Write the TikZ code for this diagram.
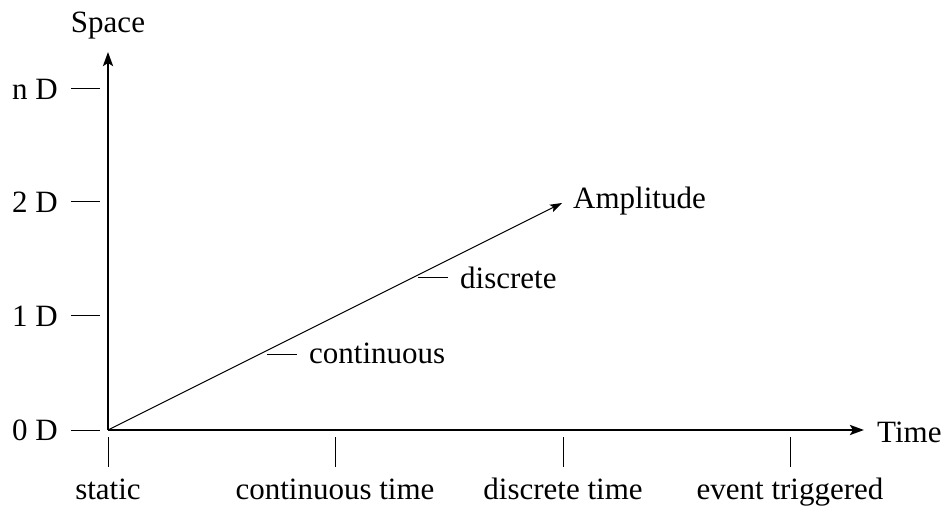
\documentclass[tikz,border=0pt]{standalone}
\usepackage{fontspec}
\setmainfont{Liberation Serif}
\usetikzlibrary{arrows.meta}
\begin{document}
\begin{tikzpicture}[x=1pt,y=-1pt,
  lbl/.style={inner sep=0pt,font=\fontsize{31}{37}\selectfont},
  axis/.style={line width=2.6pt,-{Stealth[length=14pt,width=10pt,inset=3pt]}},
  tick/.style={line width=1pt},
  diag/.style={line width=1.1pt,-{Stealth[length=12pt,width=8pt,inset=2.5pt]}}]
\useasboundingbox (0,0) rectangle (947,510);
% origin and axis ends
\coordinate (O) at (108,430);
\coordinate (Xend) at (864,430);
\coordinate (Yend) at (108,52);
\coordinate (Aend) at (562,203);
\draw[axis] (O) -- (Xend);
\draw[axis] (O) -- (Yend);
\draw[diag] (O) -- (Aend);
% axis labels
\node[lbl,anchor=base] (space) at (108,33) {Space};
\node[lbl,anchor=base west] (time) at (877,442) {Time};
\node[lbl,anchor=base west] (amp) at (573,209) {Amplitude};
% y ticks
\foreach \y/\t/\n in {430/0 D/y0,316/1 D/y1,202/2 D/y2,89/n D/yn}{
  \node[lbl,anchor=east] (\n) at (58,\y) {\t};
  \coordinate (\n a) at (71,\y);
  \coordinate (\n b) at (100,\y);
  \draw[tick] (\n a) -- (\n b);
}
% x ticks
\foreach \x/\t/\n in {108/static/x0,335/continuous time/x1,563/discrete time/x2,790/event triggered/x3}{
  \node[lbl,anchor=base] (\n) at (\x,499) {\t};
  \coordinate (\n a) at (\x,437);
  \coordinate (\n b) at (\x,467);
  \draw[tick] (\n a) -- (\n b);
}
% diagonal ticks
\coordinate (ca) at (267,354);
\coordinate (cb) at (297,354);
\draw[tick] (ca) -- (cb);
\node[lbl,anchor=base west] (cont) at (309,363) {continuous};
\coordinate (da) at (418,278);
\coordinate (db) at (448,278);
\draw[tick] (da) -- (db);
\node[lbl,anchor=base west] (disc) at (460,289) {discrete};
\end{tikzpicture}
\end{document}
